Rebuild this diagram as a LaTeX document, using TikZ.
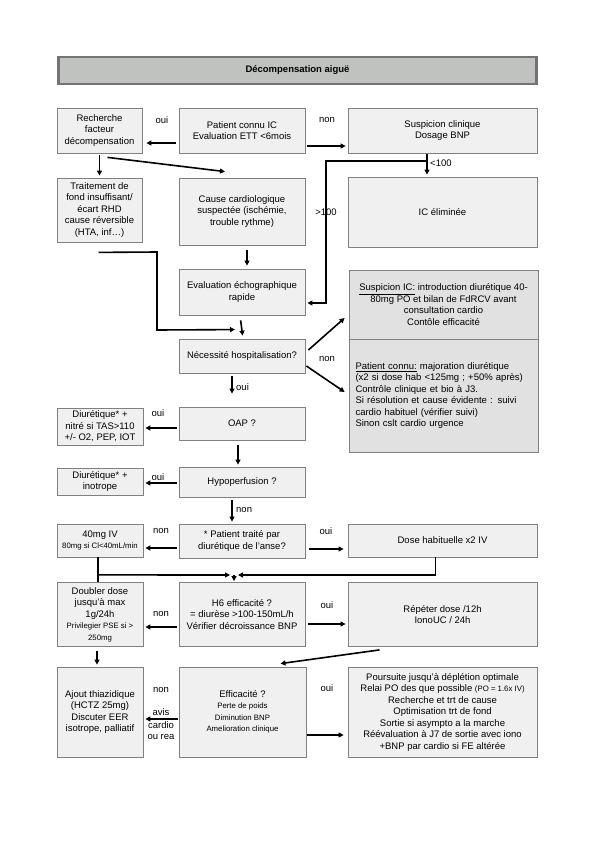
\documentclass[tikz,border=0pt]{standalone}
\usepackage{fontspec}
\setmainfont{Liberation Sans}
\usetikzlibrary{arrows.meta,calc}
\definecolor{boxfill}{HTML}{F0F0F0}
\definecolor{boxline}{HTML}{808080}
\definecolor{ambufill}{HTML}{E1E1E1}
\definecolor{titlefill}{HTML}{BFC2BE}
\definecolor{titleline}{HTML}{737373}
\newcommand{\txt}{\fontsize{9.5}{11.5}\selectfont}
\newcommand{\petit}{\fontsize{7.8}{9.3}\selectfont}

\begin{document}
\begin{tikzpicture}[x=1pt,y=-1pt,
    box/.style={draw=boxline, fill=boxfill, line width=0.8pt, align=center, inner sep=1pt, font=\txt},
    lab/.style={font=\txt, inner sep=0pt},
    >={Triangle[length=5pt,width=5pt]},
    fleche/.style={->, line width=1.6pt}
  ]
    \useasboundingbox (0,0) rectangle (596,842);
    \fill[white] (0,0) rectangle (596,842);

    \node[draw=titleline, line width=2.5pt, fill=titlefill, minimum width=478, minimum height=27,
      font=\fontsize{9.5}{11}\selectfont\bfseries] (titre) at (297.5,70.5) {Décompensation aiguë};

    \node[box, minimum width=85, minimum height=45] (rech) at (99.5,130.5) {Recherche\\facteur\\décompensation};
    \node[box, minimum width=126, minimum height=45] (connu) at (242,130.5) {Patient connu IC\\Evaluation ETT <6mois};
    \node[box, minimum width=189, minimum height=45] (susp) at (442.5,130.5) {Suspicion clinique\\Dosage BNP};

    \node[box, minimum width=85, minimum height=64] (trait) at (99.5,210) {Traitement de\\fond insuffisant/\\écart RHD\\cause réversible\\(HTA, inf…)};
    \node[box, minimum width=126, minimum height=67] (cause) at (242,211.5) {Cause cardiologique\\suspectée (ischémie,\\trouble rythme)};
    \node[box, minimum width=189, minimum height=70] (elim) at (442.5,212) {IC éliminée};

    \node[box, minimum width=126, minimum height=46] (echo) at (242,292) {Evaluation échographique\\rapide};
    \node[box, minimum width=126, minimum height=34] (hosp) at (242,356) {Nécessité hospitalisation?};

    \node[box, fill=ambufill, minimum width=189, minimum height=69] (ambuA) at (443.5,304.5)
      {\underline{Suspicion IC:} introduction diurétique 40-\\80mg PO et bilan de FdRCV avant\\consultation cardio\\Contôle efficacité};
    \node[box, fill=ambufill, minimum width=189, minimum height=113, align=left, text width=176, inner xsep=6.5pt] (ambuB) at (443.5,395.5)
      {\underline{Patient connu:} majoration diurétique\\(x2 si dose hab <125mg ; +50\% après)\\Contrôle clinique et bio à J3.\\Si résolution et cause évidente : suivi\\cardio habituel (vérifier suivi)\\Sinon cslt cardio urgence\\[6pt]};

    \node[box, minimum width=86, minimum height=37] (diu1) at (100,426.5) {Diurétique* +\\nitré si TAS>110\\+/- O2, PEP, IOT};
    \node[box, minimum width=126, minimum height=33] (oap) at (242,423.5) {OAP ?};
    \node[box, minimum width=86, minimum height=27] (diu2) at (100,481.5) {Diurétique* +\\inotrope};
    \node[box, minimum width=126, minimum height=30] (hypo) at (242,482) {Hypoperfusion ?};

    \node[box, minimum width=86, minimum height=33] (iv40) at (100,540.5) {40mg IV\\{\petit 80mg si Cl<40mL/min}};
    \node[box, minimum width=126, minimum height=34] (anse) at (242,541) {* Patient traité par\\diurétique de l'anse?};
    \node[box, minimum width=189, minimum height=33] (dose2) at (442.5,540.5) {Dose habituelle x2 IV};

    \node[box, minimum width=86, minimum height=64] (doub) at (100,614.5)
      {Doubler dose\\jusqu'à max\\1g/24h\\{\petit Privilegier PSE si >}\\{\petit 250mg}};
    \node[box, minimum width=126, minimum height=64] (h6) at (242,614.5) {H6 efficacité ?\\= diurèse >100-150mL/h\\Vérifier décroissance BNP};
    \node[box, minimum width=189, minimum height=64] (rep) at (442.5,614.5) {Répéter dose /12h\\IonoUC / 24h};

    \node[box, minimum width=86, minimum height=90] (thia) at (100,712) {Ajout thiazidique\\(HCTZ 25mg)\\Discuter EER\\isotrope, palliatif};
    \node[box, minimum width=127, minimum height=90] (effic) at (242.5,712)
      {Efficacité ?\\{\petit Perte de poids}\\{\petit Diminution BNP}\\{\petit Amelioration clinique}};
    \node[box, minimum width=189, minimum height=90] (pours) at (442.5,712)
      {Poursuite jusqu'à déplétion optimale\\Relai PO des que possible {\petit (PO = 1.6x IV)}\\Recherche et trt de cause\\Optimisation trt de fond\\Sortie si asympto a la marche\\Réévaluation à J7 de sortie avec iono\\+BNP par cardio si FE altérée};

    % patient connu ou non
    \node[lab] (l-oui1) at (162,120) {oui};
    \node[lab] (l-non1) at (327,120) {non};
    \draw[fleche, shorten <=3pt, shorten >=4pt] (connu.west |- 0,143) -- (rech.east |- 0,143);
    \draw[fleche, shorten <=2pt, shorten >=2pt] (connu.east |- 0,146) -- (susp.west |- 0,146);
    \draw[fleche, shorten <=2pt, shorten >=2pt] (rech) -- (trait);
    \draw[fleche] ($(rech.south)+(8,4)$) -- ($(cause.north)+(-17,-6)$);

    % BNP
    \coordinate (bnp) at (427,161);
    \draw[fleche, shorten <=1pt, shorten >=2pt] (susp.south -| bnp) -- (elim.north -| bnp);
    \node[lab, anchor=west] (l-inf) at (430,163) {<100};
    \node[lab] (l-sup) at (326,212) {>100};
    \draw[fleche, shorten >=2pt] (bnp) -- (326,161) -- (326,303) -- (echo.east |- 0,303);

    \draw[fleche, shorten <=5pt, shorten >=3pt] ([xshift=5pt]cause.south) -- ([xshift=5pt]echo.north);
    \draw[fleche] ($(trait.south)+(-1,10)$) -- (157,252) -- (157,330) -- ($(hosp.north)+(-7,-9)$);
    \draw[fleche, shorten <=5pt, shorten >=3pt] ($(echo.south)+(-2,0)$) -- ($(hosp.north)+(1,0)$);

    % hospitalisation
    \draw[fleche] ($(hosp.east)+(3,-6)$) -- ($(ambuA.west)+(-4,13.5)$);
    \draw[fleche] ($(hosp.east)+(1,10)$) -- ($(ambuB.west)+(-4,-3.5)$);
    \node[lab] (l-non2) at (327,359) {non};
    \draw[fleche] ($(hosp.south)+(-10,3)$) -- ($(oap.north)+(-10,-13)$);
    \node[lab, anchor=west] (l-oui2) at (236,387) {oui};

    \draw[fleche, shorten <=2pt, shorten >=2pt] (oap.west |- 0,428) -- (diu1.east |- 0,428);
    \node[lab] (l-oui3) at (158,413) {oui};
    \draw[fleche, shorten <=5pt, shorten >=2pt] ([xshift=-4pt]oap.south) -- ([xshift=-4pt]hypo.north);
    \draw[fleche, shorten <=2pt, shorten >=2pt] (hypo.west |- 0,483) -- (diu2.east |- 0,483);
    \node[lab] (l-oui4) at (158,477) {oui};
    \draw[fleche, shorten <=3pt, shorten >=2pt] ([xshift=-10pt]hypo.south) -- ([xshift=-10pt]anse.north);
    \node[lab, anchor=west] (l-non3) at (236,510) {non};

    % diuretique de l'anse
    \draw[fleche, shorten <=2pt, shorten >=2pt] (anse.west |- 0,548) -- (iv40.east |- 0,548);
    \node[lab] (l-non4) at (161,531) {non};
    \draw[fleche, shorten <=4pt, shorten >=4pt] (anse.east |- 0,549) -- (dose2.west |- 0,549);
    \node[lab] (l-oui5) at (326,531) {oui};

    \coordinate (jonction) at (234,575);
    \draw[line width=1.6pt] ($(iv40.south)+(-2,0)$) -- ($(doub.north)+(-2,0)$);
    \draw[fleche, shorten >=4pt] ($(iv40.south)+(-2,17.5)$) -- (jonction);
    \draw[fleche, shorten >=4pt] ($(dose2.south)+(-7,0)$) |- (jonction);
    \draw[fleche, shorten >=1pt] (jonction) -- (h6.north -| jonction);

    % H6
    \draw[fleche, shorten <=2pt, shorten >=2pt] (h6.west |- 0,627) -- (doub.east |- 0,627);
    \node[lab] (l-non5) at (161,614) {non};
    \draw[fleche, shorten <=3pt, shorten >=2pt] (h6.east |- 0,624) -- (rep.west |- 0,624);
    \node[lab] (l-oui6) at (327,605) {oui};
    \draw[fleche, shorten <=4pt, shorten >=2pt] ([xshift=-3pt]doub.south) -- ([xshift=-3pt]thia.north);
    \draw[fleche] ($(rep.south)+(-63,3)$) -- ($(effic.north)+(38,-3)$);

    % efficacite
    \draw[fleche, shorten <=1pt, shorten >=2pt] (effic.west |- 0,719) -- (thia.east |- 0,719);
    \node[lab] (l-non6) at (161,690) {non};
    \node[lab] (l-avis) at (161,712) {avis};
    \node[lab] (l-cardio) at (161,725) {cardio};
    \node[lab] (l-rea) at (161,737) {ou rea};
    \draw[fleche, shorten <=1pt, shorten >=4pt] (effic.east |- 0,735) -- (pours.west |- 0,735);
    \node[lab] (l-oui7) at (327,688) {oui};
\end{tikzpicture}
\end{document}
